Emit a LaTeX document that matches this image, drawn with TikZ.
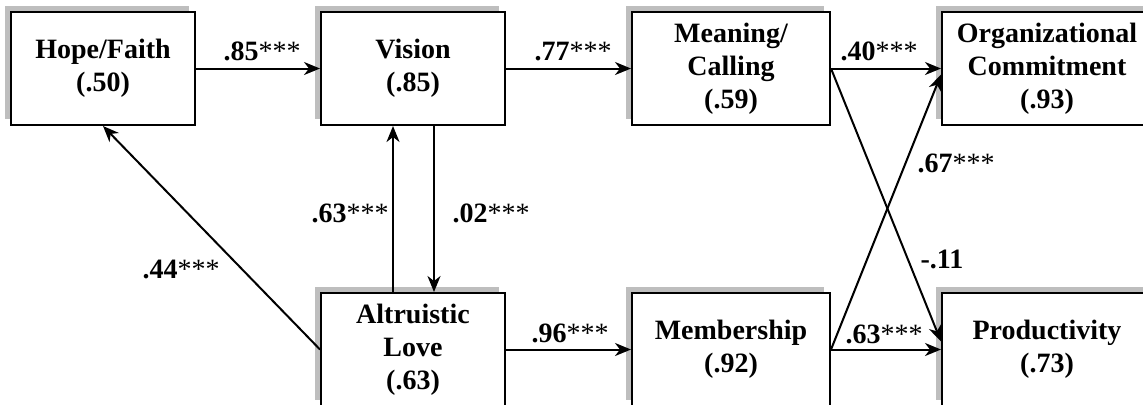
\documentclass[tikz,border=0pt]{standalone}
\usepackage{fontspec}
\setmainfont{Liberation Serif}
\usepackage{tikz}
\usetikzlibrary{arrows.meta,shadows}
\definecolor{Shade}{HTML}{BEBEBE}

\begin{document}
\begin{tikzpicture}[x=0.5pt,y=-0.5pt,
    box/.style={draw,line width=1pt,fill=white,align=center,inner sep=0pt,
      minimum height=56.5pt,font=\fontsize{14}{16.5}\selectfont\bfseries,
      general shadow={shadow xshift=-3pt,shadow yshift=3pt,fill=Shade}},
    arr/.style={line width=1pt,-{Stealth[length=8pt,width=6.5pt,inset=2.5pt]}},
    lab/.style={anchor=base,inner sep=0pt,font=\fontsize{14}{16.5}\selectfont\bfseries}]
        \useasboundingbox (0,0) rectangle (1143,404);
        \clip (0,0) rectangle (1143,404);
        \fill[white] (0,0) rectangle (1143,404);
        % boxes
        \node[box,minimum width=92pt] (hope) at (103,68.5) {Hope/Faith\\(.50)};
        \node[box,minimum width=92pt] (vision) at (413,68.5) {Vision\\(.85)};
        \node[box,minimum width=99pt] (meaning) at (731,68.5) {Meaning/\\Calling\\(.59)};
        \node[box,minimum width=105pt] (commit) at (1047,68.5) {Organizational\\Commitment\\(.93)};
        \node[box,minimum width=92pt] (love) at (413,349.5) {Altruistic\\Love\\(.63)};
        \node[box,minimum width=99pt] (member) at (731,349.5) {Membership\\(.92)};
        \node[box,minimum width=105pt] (prod) at (1047,349.5) {Productivity\\(.73)};
        % paths
        \draw[arr] (hope) -- (vision);
        \draw[arr] (vision) -- (meaning);
        \draw[arr] (meaning) -- (commit);
        \draw[arr] ([xshift=10.5pt]vision.south) -- ([xshift=10.5pt]love.north);
        \draw[arr] ([xshift=-10pt]love.north) -- ([xshift=-10pt]vision.south);
        \draw[arr] (love.west) -- (hope.south);
        \draw[arr] (love) -- (member);
        \draw[arr] (member) -- (prod);
        \draw[arr] (member.east) -- ([yshift=-3pt]commit.west);
        \draw[arr] (meaning.east) -- ([yshift=4pt]prod.west);
        % coefficients
        \node[lab] (c1) at (262,60) {.85{\mdseries***}};
        \node[lab] (c2) at (573,60) {.77{\mdseries***}};
        \node[lab] (c3) at (879,60) {.40{\mdseries***}};
        \node[lab] (c4) at (350,222) {.63{\mdseries***}};
        \node[lab] (c5) at (491,222) {.02{\mdseries***}};
        \node[lab] (c6) at (181,278) {.44{\mdseries***}};
        \node[lab] (c7) at (570,342) {.96{\mdseries***}};
        \node[lab] (c8) at (884,343) {.63{\mdseries***}};
        \node[lab] (c9) at (956,172) {.67{\mdseries***}};
        \node[lab] (c10) at (942,268) {-.11};
      \end{tikzpicture}
\end{document}
